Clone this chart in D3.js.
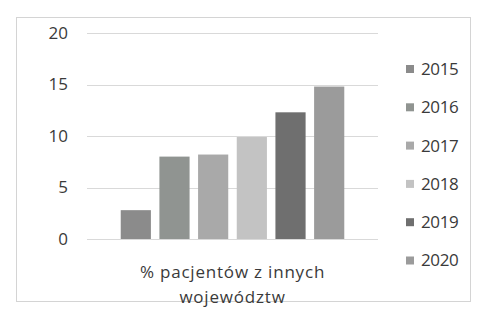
<!DOCTYPE html>
<html>
<head>
<meta charset="utf-8">
<script src="https://cdn.jsdelivr.net/npm/d3@7"></script>
<style>
  body { margin: 0; background: #fff; }
  text { font-family: "Open Sans", sans-serif; fill: #3a3a3a; }
</style>
</head>
<body>
<div id="chart"></div>
<script>
// data
const categories = ['% pacjentów z innych|województw'];
const years = ['2015', '2016', '2017', '2018', '2019', '2020'];
const values = [2.8, 8.0, 8.2, 9.9, 12.3, 14.8];
const yTicks = [0, 5, 10, 15, 20];
const colors = ['#8b8b8b', '#909491', '#a9a9a9', '#c3c3c3', '#6f6f6f', '#9b9b9b'];

const width = 477, height = 315;
const margin = { top: 33, bottom: 76, left: 87, right: 99 };

const svg = d3.select('#chart')
    .append('svg')
    .attr('width', width)
    .attr('height', height);

// outer frame
svg.append('rect')
    .attr('x', 16.5).attr('y', 17.5)
    .attr('width', 454).attr('height', 284)
    .attr('fill', 'none')
    .attr('stroke', '#d4d4d4');

const x0 = d3.scaleBand()
    .domain(categories)
    .range([margin.left, width - margin.right])
    .paddingOuter(0.127);

const x1 = d3.scaleBand()
    .domain(years)
    .range([0, x0.bandwidth()])
    .paddingInner(0.22)
    .paddingOuter(0.11);

const y = d3.scaleLinear()
    .domain([0, 20])
    .range([height - margin.bottom, margin.top]);

// gridlines
svg.append('g')
    .selectAll('line')
    .data(yTicks)
    .join('line')
    .attr('x1', margin.left)
    .attr('x2', width - margin.right)
    .attr('y1', d => Math.round(y(d)) + 0.5)
    .attr('y2', d => Math.round(y(d)) + 0.5)
    .attr('stroke', '#d9d9d9');

// y axis labels
const yAxis = d3.axisLeft(y).tickValues(yTicks).tickSize(0).tickPadding(19);
svg.append('g')
    .attr('transform', `translate(${margin.left}, 0)`)
    .call(yAxis)
    .call(g => g.select('.domain').remove())
    .call(g => g.selectAll('text')
        .style('font-size', '17px')
        .attr('fill', '#3a3a3a')
        .style('font-family', '"Open Sans", sans-serif'));

// bars
const group = svg.append('g')
    .attr('transform', `translate(${x0(categories[0])}, 0)`);

group.selectAll('rect')
    .data(years.map((yr, i) => ({ k: yr, v: values[i], c: colors[i] })))
    .join('rect')
    .attr('x', d => x1(d.k))
    .attr('y', d => y(d.v))
    .attr('width', x1.bandwidth())
    .attr('height', d => y(0) - y(d.v))
    .attr('fill', d => d.c);

// category label (two lines)
const cx = x0(categories[0]) + x0.bandwidth() / 2;
const lab = svg.append('text')
    .attr('text-anchor', 'middle')
    .style('font-size', '17px')
    .attr('letter-spacing', '0.8px');
categories[0].split('|').forEach((line, i) => {
    lab.append('tspan')
        .attr('x', cx)
        .attr('y', 278 + i * 25)
        .text(line);
});

// legend
const legend = svg.append('g')
    .selectAll('g')
    .data(years)
    .join('g')
    .attr('transform', (d, i) => `translate(406, ${69 + i * 38.3})`);

legend.append('rect')
    .attr('x', 0).attr('y', -4)
    .attr('width', 8).attr('height', 8)
    .attr('fill', (d, i) => colors[i]);

legend.append('text')
    .attr('x', 15)
    .attr('dy', '0.35em')
    .style('font-size', '17px')
    .attr('letter-spacing', '-0.4px')
    .text(d => d);
</script>
</body>
</html>
